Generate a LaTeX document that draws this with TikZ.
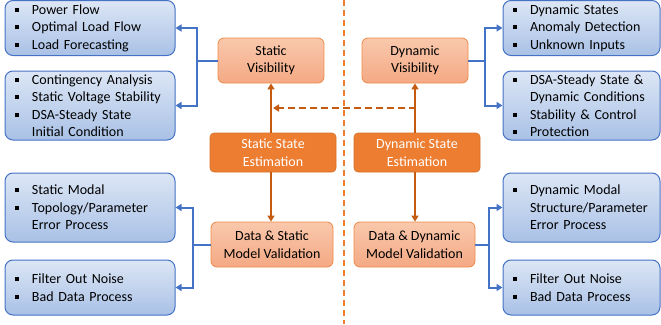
\documentclass[tikz,border=0pt]{standalone}
\usepackage{fontspec}
\setmainfont{Carlito}
\usetikzlibrary{arrows.meta,calc}
\definecolor{bluefillA}{HTML}{DCE6F5}
\definecolor{bluefillB}{HTML}{A9C1E6}
\definecolor{blueline}{HTML}{4472C4}
\definecolor{orfillA}{HTML}{F9C8AC}
\definecolor{orfillB}{HTML}{F4A984}
\definecolor{orline}{HTML}{EF8A48}
\definecolor{ordark}{HTML}{ED7D31}
\definecolor{orarrow}{HTML}{C55A11}
\newcommand{\bitem}[1]{\makebox[17pt][l]{\raisebox{2.5pt}{\rule{4pt}{4pt}}}#1}
\newcommand{\cont}[1]{\hspace*{17pt}#1}
\begin{document}
\begin{tikzpicture}[x=1pt,y=-1pt,
  every node/.style={font=\fontsize{14}{17.5}\selectfont},
  bluebox/.style={draw=blueline,line width=1pt,rounded corners=8pt,top color=bluefillA,bottom color=bluefillB,
    inner xsep=10pt,inner ysep=0pt,align=left},
  orbox/.style={draw=orline,line width=0.8pt,rounded corners=6pt,top color=orfillA,bottom color=orfillB,
    inner sep=0pt,align=center,text=black},
  darkbox/.style={draw=ordark!90!black,line width=0.6pt,rounded corners=4pt,fill=ordark,
    inner sep=0pt,align=center,text=white},
  bluearrow/.style={draw=blueline,line width=2pt,-{Triangle[length=6pt,width=7pt]}},
  orarrowst/.style={draw=orarrow,line width=2pt,-{Triangle[length=6pt,width=7pt]}},
  divider/.style={draw=ordark,line width=2pt,dash pattern=on 6pt off 4pt}
]
\useasboundingbox (0,0) rectangle (661,324);
% divider
\coordinate (dtop) at (344,0);
\coordinate (dbot) at (344,324);
\draw[divider] (dtop) -- (dbot);
% central nodes
\node[orbox,minimum width=106pt,minimum height=45pt] (sv) at (271,60.5) {Static\\Visibility};
\node[orbox,minimum width=106pt,minimum height=45pt] (dv) at (415,60.5) {Dynamic\\Visibility};
\node[darkbox,minimum width=126pt,minimum height=39pt] (sse) at (273,152.5) {Static State\\Estimation};
\node[darkbox,minimum width=126pt,minimum height=39pt] (dse) at (417,152.5) {Dynamic State\\Estimation};
\node[orbox,minimum width=122pt,minimum height=45pt] (dsmv) at (272,244.5) {Data \& Static\\Model Validation};
\node[orbox,minimum width=121pt,minimum height=45pt] (ddmv) at (414.5,244.5) {Data \& Dynamic\\Model Validation};
% left boxes
\node[bluebox,minimum width=170pt,minimum height=55pt,text width=150pt] (b1) at (90,28) {\bitem{Power Flow}\\\bitem{Optimal Load Flow}\\\bitem{Load Forecasting}};
\node[bluebox,minimum width=170pt,minimum height=69pt,text width=150pt] (b2) at (90,105.5) {\bitem{Contingency Analysis}\\\bitem{Static Voltage Stability}\\\bitem{DSA-Steady State}\\\cont{Initial Condition}};
\node[bluebox,minimum width=170pt,minimum height=69pt,text width=150pt] (b3) at (90,207.5) {\bitem{Static Modal}\\\bitem{Topology/Parameter}\\\cont{Error Process}};
\node[bluebox,minimum width=170pt,minimum height=55pt,text width=150pt] (b4) at (90,287.5) {\bitem{Filter Out Noise}\\\bitem{Bad Data Process}};
% right boxes
\node[bluebox,minimum width=157pt,minimum height=55pt,text width=137pt] (b5) at (581.5,28) {\bitem{Dynamic States}\\\bitem{Anomaly Detection}\\\bitem{Unknown Inputs}};
\node[bluebox,minimum width=157pt,minimum height=69pt,text width=137pt] (b6) at (581.5,105.5) {\bitem{DSA-Steady State \&}\\\cont{Dynamic Conditions}\\\bitem{Stability \& Control}\\\bitem{Protection}};
\node[bluebox,minimum width=157pt,minimum height=69pt,text width=137pt] (b7) at (581.5,207.5) {\bitem{Dynamic Modal}\\\cont{Structure/Parameter}\\\cont{Error Process}};
\node[bluebox,minimum width=157pt,minimum height=55pt,text width=137pt] (b8) at (581.5,287.5) {\bitem{Filter Out Noise}\\\bitem{Bad Data Process}};
% orange arrows
\draw[orarrowst] (sse.north -| sv.south) -- (sv.south);
\draw[orarrowst] (dse.north -| dv.south) -- (dv.south);
\draw[orarrowst] (sse.south -| sv.south) -- (dsmv.north -| sv.south);
\draw[orarrowst] (dse.south -| dv.south) -- (ddmv.north -| dv.south);
\draw[draw=orarrow,line width=2pt,dash pattern=on 7pt off 4pt,-{Triangle[length=6pt,width=7pt]},shorten >=1pt]
  ($(dv.south)!.5!(dse.north)$) -- ($(sv.south)!.5!(sse.north)$);
% blue connectors
\draw[bluearrow] (sv.west) -- ++(-21,0) |- (b1.east);
\draw[bluearrow] (sv.west) -- ++(-21,0) |- (b2.east);
\draw[bluearrow] (dsmv.west) -- ++(-18,0) |- (b3.east);
\draw[bluearrow] (dsmv.west) -- ++(-18,0) |- (b4.east);
\draw[bluearrow] (dv.east) -- ++(17,0) |- (b5.west);
\draw[bluearrow] (dv.east) -- ++(17,0) |- (b6.west);
\draw[bluearrow] (ddmv.east) -- ++(14,0) |- (b7.west);
\draw[bluearrow] (ddmv.east) -- ++(14,0) |- (b8.west);
\end{tikzpicture}
\end{document}
